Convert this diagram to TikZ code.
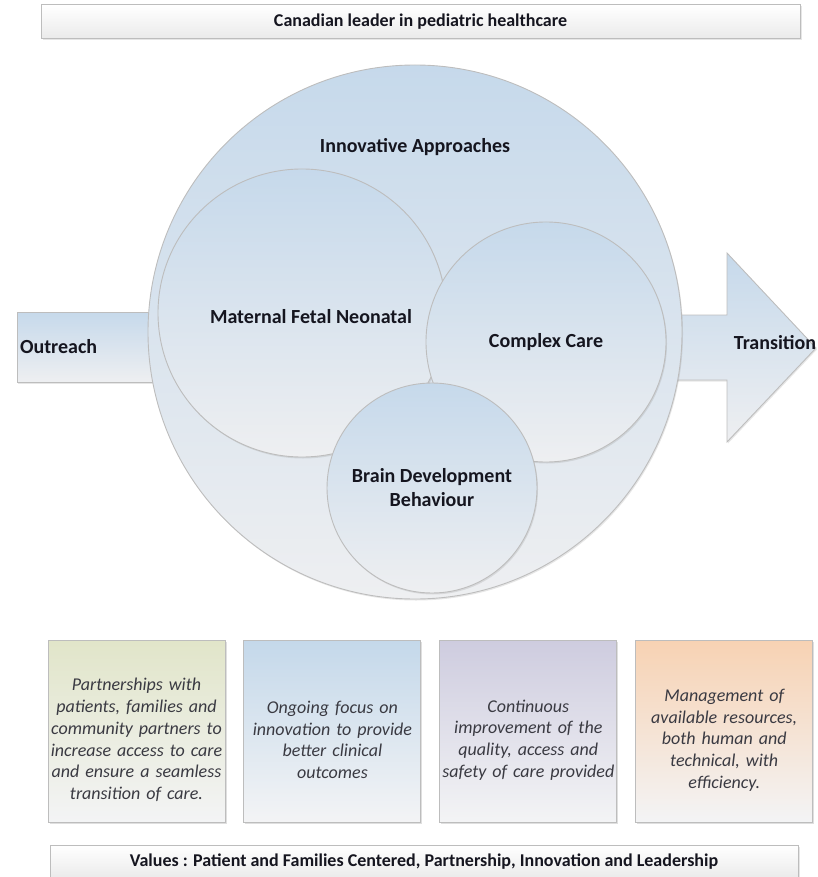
\documentclass[tikz,border=0pt]{standalone}
\usepackage{fontspec}
\setmainfont{Carlito}
\usetikzlibrary{positioning, shadows}
\definecolor{ringtop}{HTML}{C6D9EB}
\definecolor{ringbot}{HTML}{EEEFF1}
\definecolor{ringline}{HTML}{BDBDBD}
\definecolor{bannerbot}{HTML}{EAEAEA}
\definecolor{labeltext}{HTML}{15151F}
\definecolor{pillartext}{HTML}{3A3A42}
\definecolor{greentop}{HTML}{E1E5C9}
\definecolor{bluetop}{HTML}{C4D8EA}
\definecolor{lilactop}{HTML}{CECCDF}
\definecolor{peachtop}{HTML}{F7D2B3}

\begin{document}
\begin{tikzpicture}[x=1pt, y=-1pt,
    lbl/.style={font=\fontsize{20}{24}\selectfont\bfseries, text=labeltext, align=center},
    ring/.style={circle, draw=ringline, line width=0.9pt, top color=ringtop, bottom color=ringbot,
      inner sep=0pt, drop shadow={shadow xshift=1pt, shadow yshift=-1.5pt, opacity=.2}},
    banner/.style={draw=ringline, line width=1pt, top color=white, bottom color=bannerbot,
      minimum height=34pt, font=\fontsize{18}{21}\selectfont\bfseries, text=labeltext,
      drop shadow={shadow xshift=1.5pt, shadow yshift=-1.5pt, opacity=.2}},
    pillar/.style={draw=ringline, line width=0.9pt, bottom color=ringbot!70!white,
      minimum width=177pt, minimum height=182pt,
      drop shadow={shadow xshift=1.5pt, shadow yshift=-1.5pt, opacity=.25}},
    pillartxt/.style={text width=186pt, inner sep=0pt, align=center,
      font=\fontsize{18}{21.7}\selectfont\itshape, text=pillartext},
    node distance=18pt]
  \useasboundingbox (0,0) rectangle (817,877);

  % headline
  \node[banner, minimum width=759pt] (head) at (420.5,22) {Canadian leader in pediatric healthcare};

  % arrow shafts behind the circles
  \node[lbl, draw=ringline, line width=0.9pt, top color=ringtop, bottom color=ringbot,
    minimum height=70pt, text width=137pt, inner sep=3pt, align=left,
    drop shadow={shadow xshift=1pt, shadow yshift=-1.5pt, opacity=.2}] (out) at (88.5,347) {Outreach};
  \path[draw=ringline, line width=0.9pt, top color=ringtop, bottom color=ringbot,
    drop shadow={shadow xshift=1pt, shadow yshift=-1.5pt, opacity=.2}]
    (600,315) -- (727,315) -- (727,253) -- (816,348) -- (727,442) -- (727,380) -- (600,380) -- cycle;
  \node[lbl] (trans) at (775,343) {Transition};

  % circles
  \node[ring, minimum size=534pt] (inno) at (415,332) {};
  \node[lbl] (innolbl) at (415,147) {Innovative Approaches};
  \node[ring, minimum size=288pt] (mfn) at (302,313) {};
  \node[lbl] (mfnlbl) at (311,317) {Maternal Fetal Neonatal};
  \node[ring, minimum size=240pt, lbl] (cc) at (546,342) {Complex Care};
  \node[ring, minimum size=210pt, lbl] (bdb) at (432,488) {Brain Development\\Behaviour};

  % pillars, text sits a little below the middle
  \node[pillar, top color=greentop] (p1) at (136.5,731) {};
  \node[pillar, top color=bluetop, right=of p1] (p2) {};
  \node[pillar, top color=lilactop, right=of p2] (p3) {};
  \node[pillar, top color=peachtop, right=of p3] (p4) {};
  \node[pillartxt] (p1txt) at ([yshift=-9pt]p1.center) {Partnerships with\\patients, families and\\community partners to\\increase access to care\\and ensure a seamless\\transition of care.};
  \node[pillartxt] (p2txt) at ([yshift=-9pt]p2.center) {Ongoing focus on\\innovation to provide\\better clinical\\outcomes};
  \node[pillartxt] (p3txt) at ([yshift=-9pt]p3.center) {Continuous\\improvement of the\\quality, access and\\safety of care provided};
  \node[pillartxt] (p4txt) at ([yshift=-9pt]p4.center) {Management of\\available resources,\\both human and\\technical, with\\efficiency.};

  % values
  \node[banner, minimum width=748pt] (vals) at (424,862) {Values : Patient and Families Centered, Partnership, Innovation and Leadership};
\end{tikzpicture}
\end{document}
